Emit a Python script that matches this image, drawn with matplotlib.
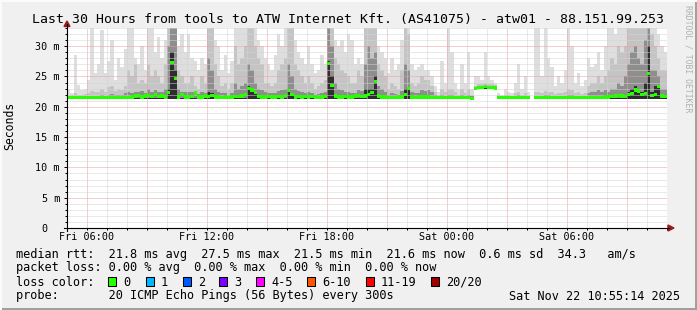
import numpy as np
import pandas as pd
import matplotlib
matplotlib.use("Agg")
import matplotlib.pyplot as plt
import matplotlib.dates as mdates
from matplotlib.patches import Rectangle, Polygon
from matplotlib.lines import Line2D
from matplotlib.ticker import MultipleLocator, FuncFormatter

plt.rcParams['font.family'] = ['DejaVu Sans Mono']

nan = float("nan")

# 10 minute bins starting Fri 2025-11-21 05:00 (ms)
smoke_hi = [
    22.8, 22.3, 28.5, 23.6, 22.8, 23.0, 24.5, 34.0, 25.5, 27.0, 32.6, 25.5, 27.5, 31.0, 24.5, 28.0, 26.5, 29.5,
    34.0, 33.0, 28.0, 27.0, 30.0, 26.0, 34.0, 33.0, 29.0, 31.5, 28.0, 31.0, 34.0, 34.0, 34.0, 30.0, 32.0, 29.0,
    32.0, 28.0, 27.5, 26.0, 28.0, 27.0, 34.0, 34.0, 31.0, 30.0, 26.0, 28.5, 25.5, 27.5, 34.0, 33.0, 34.0, 34.0,
    34.0, 34.0, 34.0, 31.0, 30.0, 28.0, 27.0, 26.0, 28.5, 32.0, 30.0, 33.0, 34.0, 34.0, 31.0, 29.0, 28.0, 27.0,
    30.0, 27.0, 25.5, 26.0, 28.5, 27.0, 34.0, 34.0, 31.0, 30.0, 31.0, 29.0, 32.0, 31.0, 27.0, 28.0, 27.0, 34.0,
    34.0, 34.0, 34.0, 30.0, 29.0, 28.0, 25.5, 28.0, 26.0, 27.0, 31.0, 34.0, 34.0, 27.0, 26.0, 26.5, 27.0, 26.0,
    26.0, 25.0, 23.5, 22.5, 27.5, 24.0, 34.0, 29.0, 24.0, 23.0, 27.0, 24.0, 29.0, 23.0, 25.0, 25.0, 24.5, 29.0,
    25.0, 24.5, 24.0, 22.3, 22.0, 23.0, 22.5, 22.3, 24.0, 27.0, 23.0, 25.0, 22.5, nan, 34.0, 34.0, 25.0, 34.0,
    28.0, 26.5, 23.5, 25.0, 24.0, 26.0, 34.0, 30.0, 24.0, 25.5, 23.5, 24.5, 28.0, 26.5, 27.0, 29.0, 26.0, 30.0,
    34.0, 34.0, 32.0, 34.0, 34.0, 33.0, 34.0, 34.0, 34.0, 34.0, 34.0, 34.0, 34.0, 34.0, 34.0, 32.0, 30.0, 29.0,
]
smoke_mid = [
    21.8, 21.9, 22.2, 22.0, 21.9, 22.1, 22.3, 22.6, 22.4, 22.5, 23.0, 22.5, 23.2, 23.5, 22.6, 23.0, 22.8, 23.5,
    26.0, 25.0, 27.0, 24.0, 24.5, 24.0, 27.0, 25.0, 26.0, 25.0, 24.0, 27.0, 34.0, 34.0, 34.0, 26.0, 25.0, 24.0,
    24.0, 25.0, 23.5, 23.0, 25.0, 24.0, 34.0, 33.0, 27.0, 25.0, 23.5, 24.0, 23.0, 24.0, 30.0, 27.0, 28.0, 30.0,
    34.0, 33.0, 30.0, 28.0, 27.0, 24.0, 24.0, 23.5, 24.0, 26.0, 27.0, 28.0, 34.0, 33.0, 27.0, 26.0, 25.0, 24.0,
    25.0, 24.0, 23.0, 23.5, 24.0, 24.5, 34.0, 34.0, 28.0, 27.0, 26.0, 25.5, 25.0, 24.0, 24.0, 26.0, 25.0, 34.0,
    34.0, 33.0, 34.0, 27.0, 26.0, 25.0, 23.0, 24.0, 23.5, 23.0, 26.0, 34.0, 32.0, 24.0, 23.5, 24.0, 25.0, 24.5,
    24.5, 23.5, 22.5, 22.0, 23.0, 22.5, 23.0, 23.0, 22.5, 22.0, 23.0, 22.3, 23.0, 22.0, 23.5, 23.8, 23.8, 24.0,
    23.8, 23.7, 23.6, 21.9, 21.8, 21.9, 21.9, 21.8, 22.2, 22.5, 21.9, 22.3, 21.8, nan, 22.5, 22.5, 22.3, 22.6,
    22.5, 22.4, 22.1, 22.3, 22.2, 22.4, 23.0, 22.8, 22.2, 22.5, 22.1, 22.3, 23.5, 24.0, 24.0, 25.0, 24.0, 25.0,
    26.0, 28.0, 27.0, 30.0, 29.0, 30.0, 34.0, 34.0, 34.0, 34.0, 34.0, 34.0, 34.0, 32.0, 30.0, 28.0, 26.0, 26.0,
]
smoke_lo = [
    21.6, 21.6, 21.7, 21.6, 21.6, 21.7, 21.7, 21.8, 21.8, 21.8, 21.9, 21.8, 22.0, 22.1, 21.9, 22.0, 22.0, 22.2,
    22.5, 22.3, 22.5, 22.4, 22.6, 22.3, 23.0, 22.5, 22.8, 22.5, 22.5, 23.0, 30.0, 34.0, 33.0, 23.0, 22.5, 22.4,
    22.4, 22.5, 22.2, 22.1, 22.5, 22.3, 28.0, 26.0, 23.0, 22.5, 22.2, 22.3, 22.0, 22.3, 24.0, 23.0, 23.5, 24.0,
    27.0, 26.0, 24.0, 23.0, 22.8, 22.4, 22.3, 22.2, 22.3, 22.6, 22.8, 23.0, 27.0, 25.0, 23.0, 22.6, 22.5, 22.3,
    22.5, 22.2, 22.0, 22.1, 22.3, 22.5, 34.0, 30.0, 24.0, 23.0, 22.8, 22.5, 22.4, 22.3, 22.3, 22.8, 22.6, 27.0,
    30.0, 28.0, 29.0, 23.5, 23.0, 22.5, 22.0, 22.3, 22.1, 22.0, 22.6, 27.0, 26.0, 22.4, 22.2, 22.3, 22.8, 22.6,
    22.8, 22.4, 22.0, 21.8, 22.0, 21.8, 22.0, 22.0, 21.8, 21.7, 21.9, 21.8, 21.9, 21.7, 23.3, 23.4, 23.4, 23.5,
    23.4, 23.4, 23.3, 21.7, 21.6, 21.7, 21.7, 21.6, 21.8, 21.9, 21.7, 21.8, 21.6, nan, 21.8, 21.8, 21.8, 21.9,
    21.9, 21.8, 21.7, 21.8, 21.7, 21.8, 21.9, 21.9, 21.7, 21.8, 21.7, 21.8, 22.2, 22.5, 22.5, 22.8, 22.5, 22.8,
    22.5, 23.0, 23.0, 24.0, 23.5, 25.0, 27.0, 29.0, 30.0, 28.0, 27.0, 31.0, 34.0, 26.0, 26.0, 25.0, 23.0, 23.0,
]
smoke_core = [
    21.5, 21.5, 21.5, 21.5, 21.5, 21.5, 21.5, 21.5, 21.5, 21.5, 21.5, 21.5, 21.5, 21.5, 21.5, 21.5, 21.5, 21.5,
    21.5, 21.5, 21.5, 21.5, 21.5, 21.5, 21.5, 21.5, 21.5, 21.5, 21.5, 21.5, 23.0, 29.0, 26.0, 21.5, 21.5, 21.5,
    21.5, 21.5, 21.5, 21.5, 21.5, 21.5, 22.5, 22.2, 21.5, 21.5, 21.5, 21.5, 21.5, 21.5, 21.5, 21.5, 21.5, 21.5,
    23.5, 23.0, 22.3, 21.5, 21.5, 21.5, 21.5, 21.5, 21.5, 21.5, 21.5, 21.5, 22.5, 22.3, 21.5, 21.5, 21.5, 21.5,
    21.5, 21.5, 21.5, 21.5, 21.5, 21.5, 27.5, 25.0, 21.5, 21.5, 21.5, 21.5, 21.5, 21.5, 21.5, 21.5, 21.5, 23.0,
    23.0, 23.0, 25.0, 21.5, 21.5, 21.5, 21.5, 21.5, 21.5, 21.5, 21.5, 23.0, 23.0, 21.5, 21.5, 21.5, 21.5, 21.5,
    21.5, 21.5, 21.5, 21.5, 21.5, 21.5, 21.5, 21.5, 21.5, 21.5, 21.5, 21.5, 21.5, 21.5, 23.2, 23.2, 23.2, 23.3,
    23.2, 23.2, 23.1, 21.5, 21.5, 21.5, 21.5, 21.5, 21.5, 21.5, 21.5, 21.5, 21.5, nan, 21.5, 21.5, 21.5, 21.5,
    21.5, 21.5, 21.5, 21.5, 21.5, 21.5, 21.5, 21.5, 21.5, 21.5, 21.5, 21.5, 21.5, 21.5, 21.5, 21.5, 21.5, 21.5,
    21.5, 21.5, 21.5, 21.5, 21.5, 21.5, 22.5, 23.0, 23.5, 23.0, 22.5, 24.0, 30.0, 22.5, 23.5, 23.4, 21.5, 21.5,
]
ping_min = [
    21.3, 21.3, 21.3, 21.3, 21.3, 21.3, 21.3, 21.3, 21.3, 21.3, 21.3, 21.3, 21.3, 21.3, 21.3, 21.3, 21.3, 21.3,
    21.3, 21.3, 21.3, 21.3, 21.3, 21.3, 21.3, 21.3, 21.3, 21.3, 21.3, 21.3, 21.3, 21.3, 21.3, 21.3, 21.3, 21.3,
    21.3, 21.3, 21.3, 21.3, 21.3, 21.3, 21.3, 21.3, 21.3, 21.3, 21.3, 21.3, 21.3, 21.3, 21.3, 21.3, 21.3, 21.3,
    21.3, 21.3, 21.3, 21.3, 21.3, 21.3, 21.3, 21.3, 21.3, 21.3, 21.3, 21.3, 21.3, 21.3, 21.3, 21.3, 21.3, 21.3,
    21.3, 21.3, 21.3, 21.3, 21.3, 21.3, 21.3, 21.3, 21.3, 21.3, 21.3, 21.3, 21.3, 21.3, 21.3, 21.3, 21.3, 21.3,
    21.3, 21.3, 21.3, 21.3, 21.3, 21.3, 21.3, 21.3, 21.3, 21.3, 21.3, 21.3, 21.3, 21.3, 21.3, 21.3, 21.3, 21.3,
    21.3, 21.3, 21.3, 21.3, 21.3, 21.3, 21.3, 21.3, 21.3, 21.3, 21.3, 21.3, 21.3, 21.2, 22.9, 22.9, 22.9, 23.0,
    22.9, 22.9, 22.8, 21.3, 21.3, 21.3, 21.3, 21.3, 21.3, 21.3, 21.3, 21.3, 21.3, nan, 21.3, 21.3, 21.3, 21.3,
    21.3, 21.3, 21.3, 21.3, 21.3, 21.3, 21.3, 21.3, 21.3, 21.3, 21.3, 21.3, 21.3, 21.3, 21.3, 21.3, 21.3, 21.3,
    21.3, 21.3, 21.3, 21.3, 21.3, 21.3, 21.3, 21.3, 21.3, 21.3, 21.3, 21.3, 21.3, 21.3, 21.3, 21.3, 21.3, 21.3,
]
median_rtt = [
    21.5, 21.5, 21.5, 21.5, 21.5, 21.5, 21.5, 21.5, 21.5, 21.5, 21.5, 21.5, 21.5, 21.5, 21.5, 21.5, 21.5, 21.5,
    21.5, 21.6, 21.8, 21.9, 21.6, 21.8, 21.9, 21.7, 22.0, 21.7, 21.8, 21.6, 22.4, 27.3, 24.7, 21.6, 22.0, 21.6,
    21.6, 21.7, 22.3, 21.6, 21.6, 21.8, 21.7, 21.9, 21.6, 21.6, 21.5, 21.6, 21.5, 21.6, 21.7, 21.7, 21.8, 22.0,
    23.0, 22.8, 22.4, 21.7, 21.6, 21.6, 21.7, 21.6, 21.6, 21.7, 21.6, 21.9, 22.7, 22.0, 21.6, 21.7, 21.6, 21.7,
    21.6, 21.7, 21.6, 21.5, 21.6, 21.7, 27.1, 23.5, 21.8, 21.6, 21.6, 21.7, 21.6, 21.6, 21.8, 21.9, 21.7, 21.8,
    22.0, 22.4, 24.2, 21.8, 21.6, 21.6, 21.5, 21.5, 21.5, 21.6, 21.6, 22.0, 23.0, 21.6, 21.5, 21.6, 21.6, 21.6,
    21.6, 21.5, 21.5, 21.5, 21.5, 21.5, 21.5, 21.5, 21.5, 21.5, 21.5, 21.5, 21.5, 21.4, 23.0, 23.2, 23.2, 23.3,
    23.2, 23.2, 23.1, 21.5, 21.5, 21.5, 21.5, 21.5, 21.5, 21.5, 21.5, 21.5, 21.5, nan, 21.5, 21.5, 21.5, 21.5,
    21.5, 21.5, 21.5, 21.5, 21.5, 21.5, 21.5, 21.5, 21.5, 21.5, 21.5, 21.5, 21.5, 21.5, 21.5, 21.5, 21.5, 21.6,
    21.6, 21.7, 21.8, 21.9, 21.8, 21.7, 22.0, 22.2, 22.8, 22.6, 22.0, 22.2, 25.5, 21.9, 22.0, 23.4, 21.8, 21.7,
]

loss_labels = ["0", "1", "2", "3", "4-5", "6-10", "11-19", "20/20"]
loss_colors = ["#26ff00", "#00b8ff", "#0059ff", "#7e00ff", "#ff00ff", "#ff5500", "#ff0000", "#a10000"]

title = "Last 30 Hours from tools to ATW Internet Kft. (AS41075) - atw01 - 88.151.99.253"
stats_rtt = "median rtt:  21.8 ms avg  27.5 ms max  21.5 ms min  21.6 ms now  0.6 ms sd  34.3   am/s"
stats_loss = "packet loss: 0.00 % avg  0.00 % max  0.00 % min  0.00 % now"
probe_text = "probe:       20 ICMP Echo Pings (56 Bytes) every 300s"
stamp = "Sat Nov 22 10:55:14 2025"

W, H = 697, 310


def fx(px):
    return px / W


def fy(py):
    return 1 - py / H


fig = plt.figure(figsize=(W / 100, H / 100), dpi=100, facecolor="#f0f0f0")
ax = fig.add_axes([fx(67), fy(228), 600 / W, 200 / H])
ax.set_facecolor("white")

t0 = pd.Timestamp("2025-11-21 05:00")
t = mdates.date2num(pd.date_range(t0, periods=len(median_rtt), freq="10min"))
step = 10 / 1440

med = np.array(median_rtt)
floor = np.array(ping_min)
for top, col in [(smoke_hi, "#dedede"), (smoke_mid, "#c4c4c4"),
                 (smoke_lo, "#8e8e8e"), (smoke_core, "#2e2e2e")]:
    h = np.clip(np.array(top) - floor, 0, None)
    ax.bar(t, h, width=step, bottom=floor, align="edge", color=col,
           linewidth=0, antialiased=False, zorder=1)
ax.bar(t, 0.55, width=step, bottom=med - 0.28, align="edge", color=loss_colors[0],
       linewidth=0, antialiased=False, zorder=3)

ax.set_xlim(mdates.date2num(t0), mdates.date2num(t0 + pd.Timedelta(hours=30)))
ax.set_ylim(0, 33)

ax.xaxis.set_major_locator(mdates.HourLocator(byhour=range(0, 24, 3)))
ax.xaxis.set_minor_locator(mdates.HourLocator())


def xlab(v, pos):
    d = mdates.num2date(v)
    if d.hour % 6:
        return ""
    return d.strftime("%a %H:%M")


ax.xaxis.set_major_formatter(FuncFormatter(xlab))
ax.yaxis.set_major_locator(MultipleLocator(5))
ax.yaxis.set_minor_locator(MultipleLocator(1))
ax.yaxis.set_major_formatter(FuncFormatter(lambda v, p: "0  " if v == 0 else "%d m" % v))

ax.set_axisbelow(False)
ax.grid(which="minor", color="#d4d4d4", linestyle=(0, (1, 1)), linewidth=0.72)
ax.grid(which="major", color="#eaa0a0", linestyle=(0, (1, 1)), linewidth=0.72)

ax.tick_params(axis="both", which="both", direction="out", width=0.72, colors="black", labelsize=7.3)
ax.tick_params(axis="y", which="major", length=2.2, pad=2.9)
ax.tick_params(axis="y", which="minor", length=1.5)
ax.tick_params(axis="x", which="both", length=1.6, pad=1.6)
for s in ["top", "right", "left", "bottom"]:
    ax.spines[s].set_visible(False)

# axes with arrows, rrdtool style
fig.add_artist(Line2D([fx(67), fx(67)], [fy(231), fy(24)], color="black", lw=0.8))
fig.add_artist(Line2D([fx(64), fx(669)], [fy(228), fy(228)], color="black", lw=0.8))
fig.add_artist(Polygon([[fx(64), fy(26.5)], [fx(70), fy(26.5)], [fx(67), fy(21)]],
                       closed=True, color="#9b1c1c", transform=fig.transFigure))
fig.add_artist(Polygon([[fx(668), fy(225)], [fx(668), fy(231)], [fx(674), fy(228)]],
                       closed=True, color="#9b1c1c", transform=fig.transFigure))

fig.text(fx(348.5), fy(19), title, ha="center", va="center", fontsize=9.55)
fig.text(fx(10), fy(126), "Seconds", rotation=90, ha="center", va="center", fontsize=8.3)
fig.text(fx(688), fy(5), "RRDTOOL / TOBI OETIKER", rotation=-90, ha="center", va="top",
         fontsize=5.9, color="#b0b0b0")

fig.text(fx(16), fy(254.5), stats_rtt, ha="left", va="center", fontsize=8.55)
fig.text(fx(16), fy(268), stats_loss, ha="left", va="center", fontsize=8.55)
fig.text(fx(16), fy(282), "loss color:", ha="left", va="center", fontsize=8.55)
fig.text(fx(16), fy(296), probe_text, ha="left", va="center", fontsize=8.55)
fig.text(fx(680), fy(296), stamp, ha="right", va="center", fontsize=8.55)

box_x = [108, 146, 183, 219, 256, 307, 366, 431]
for bx, lab, col in zip(box_x, loss_labels, loss_colors):
    fig.add_artist(Rectangle((fx(bx), fy(286)), 8 / W, 9 / H, transform=fig.transFigure,
                             facecolor=col, edgecolor="black", linewidth=0.75))
    fig.text(fx(bx + 15), fy(282), lab, ha="left", va="center", fontsize=8.55)

# 3d frame of the rrdtool canvas
fig.add_artist(Rectangle((0, 0), 1, 2 / H, transform=fig.transFigure, color="#a0a0a0", lw=0))
fig.add_artist(Rectangle((1 - 2 / W, 0), 2 / W, 1, transform=fig.transFigure, color="#a0a0a0", lw=0))
fig.add_artist(Rectangle((0, 1 - 2 / H), 1, 2 / H, transform=fig.transFigure, color="#fbfbfb", lw=0))
fig.add_artist(Rectangle((0, 0), 2 / W, 1, transform=fig.transFigure, color="#fbfbfb", lw=0))

fig.savefig("out.png", dpi=100, facecolor=fig.get_facecolor())
